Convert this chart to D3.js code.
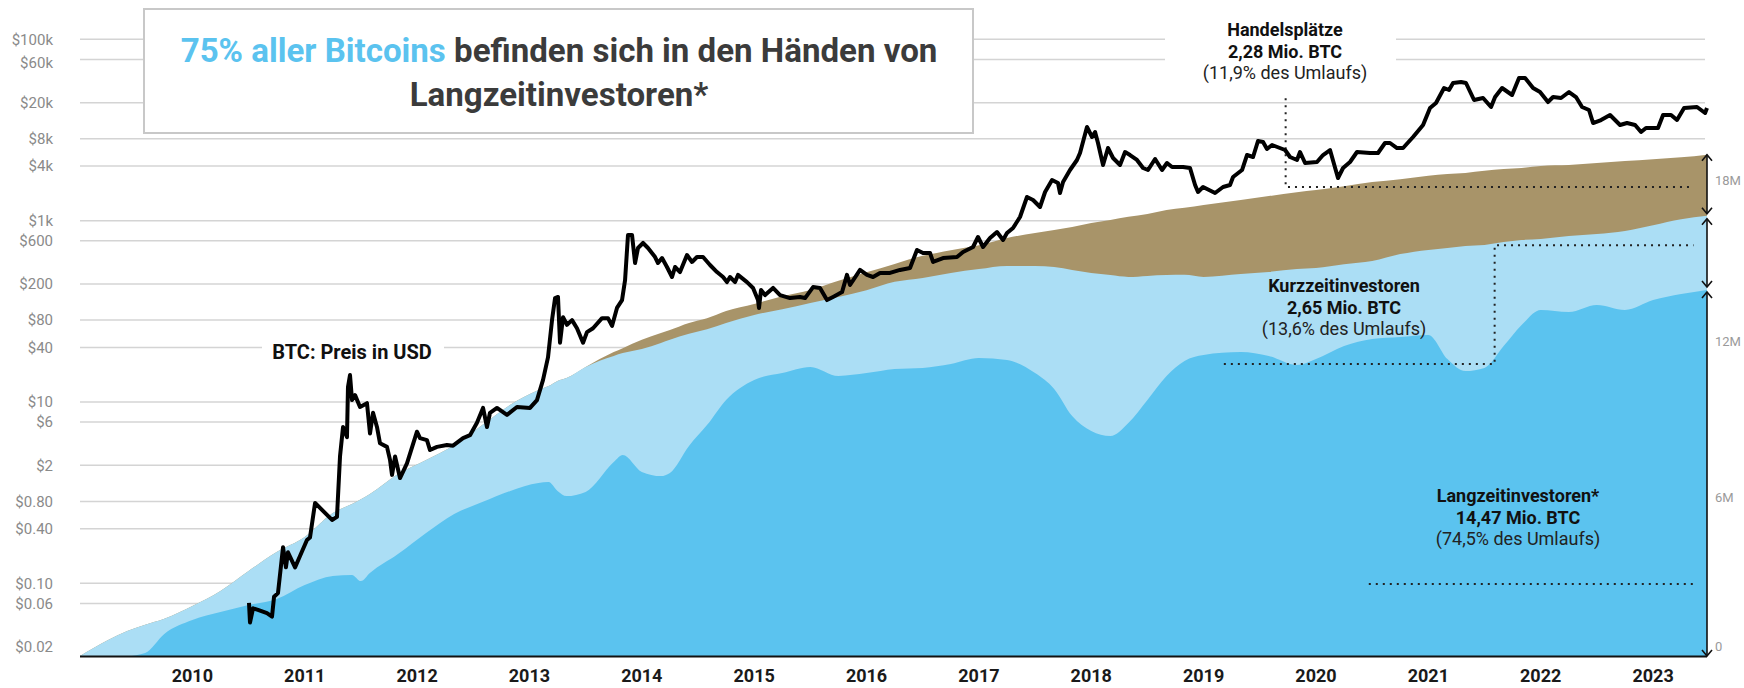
<!DOCTYPE html>
<html>
<head>
<meta charset="utf-8">
<script src="https://cdn.jsdelivr.net/npm/d3@7"></script>
<style>
  html, body { margin: 0; padding: 0; background: #fff; }
  svg { display: block; font-family: Roboto, "Open Sans", sans-serif; }
</style>
</head>
<body>
<div id="chart"></div>
<script>
// DATA (years as decimal years)
var yearTicks = d3.range(2010, 2024);

var priceTicks = [100000, 60000, 20000, 8000, 4000, 1000, 600, 200, 80, 40, 10, 6, 2, 0.8, 0.4, 0.1, 0.06, 0.02];
var priceTickLabels = ["$100k", "$60k", "$20k", "$8k", "$4k", "$1k", "$600", "$200", "$80", "$40",
  "$10", "$6", "$2", "$0.80", "$0.40", "$0.10", "$0.06", "$0.02"];

var supplyTicks = [0, 6, 12, 18];
var supplyTickLabels = ["0", "6M", "12M", "18M"];

// BTC price in USD
var priceDates = [
  2010.504, 2010.513, 2010.540, 2010.584, 2010.664, 2010.709, 2010.727, 2010.762, 2010.807, 2010.833,
  2010.851, 2010.914, 2010.958, 2011.020, 2011.047, 2011.092, 2011.243, 2011.287, 2011.314, 2011.341,
  2011.376, 2011.385, 2011.403, 2011.421, 2011.448, 2011.492, 2011.554, 2011.581, 2011.608, 2011.643,
  2011.670, 2011.732, 2011.759, 2011.777, 2011.804, 2011.848, 2011.910, 2011.999, 2012.026, 2012.088,
  2012.115, 2012.177, 2012.266, 2012.320, 2012.409, 2012.471, 2012.533, 2012.587, 2012.622, 2012.649,
  2012.711, 2012.800, 2012.889, 2013.005, 2013.067, 2013.121, 2013.165, 2013.201, 2013.228, 2013.254,
  2013.272, 2013.299, 2013.334, 2013.379, 2013.423, 2013.477, 2013.512, 2013.566, 2013.646, 2013.699,
  2013.735, 2013.779, 2013.824, 2013.851, 2013.877, 2013.913, 2013.940, 2013.966, 2014.011, 2014.055,
  2014.118, 2014.144, 2014.180, 2014.224, 2014.269, 2014.296, 2014.340, 2014.402, 2014.447, 2014.491,
  2014.545, 2014.607, 2014.669, 2014.723, 2014.758, 2014.785, 2014.830, 2014.856, 2014.936, 2014.990,
  2015.034, 2015.043, 2015.061, 2015.097, 2015.168, 2015.230, 2015.319, 2015.408, 2015.453, 2015.524,
  2015.586, 2015.648, 2015.702, 2015.782, 2015.826, 2015.853, 2015.942, 2016.004, 2016.058, 2016.120,
  2016.209, 2016.298, 2016.387, 2016.449, 2016.503, 2016.565, 2016.592, 2016.681, 2016.805, 2016.859,
  2016.948, 2016.992, 2017.037, 2017.099, 2017.161, 2017.215, 2017.250, 2017.304, 2017.366, 2017.428,
  2017.482, 2017.544, 2017.589, 2017.651, 2017.704, 2017.722, 2017.749, 2017.811, 2017.873, 2017.900,
  2017.962, 2018.007, 2018.034, 2018.060, 2018.105, 2018.149, 2018.194, 2018.256, 2018.301, 2018.345,
  2018.407, 2018.461, 2018.505, 2018.568, 2018.630, 2018.674, 2018.719, 2018.817, 2018.879, 2018.924,
  2018.950, 2018.995, 2019.102, 2019.173, 2019.235, 2019.262, 2019.342, 2019.386, 2019.440, 2019.484,
  2019.529, 2019.564, 2019.609, 2019.725, 2019.769, 2019.831, 2019.858, 2019.903, 2020.009, 2020.063,
  2020.125, 2020.196, 2020.241, 2020.303, 2020.365, 2020.481, 2020.552, 2020.614, 2020.659, 2020.721,
  2020.775, 2020.864, 2020.953, 2021.015, 2021.068, 2021.140, 2021.184, 2021.220, 2021.291, 2021.335,
  2021.407, 2021.487, 2021.558, 2021.594, 2021.656, 2021.745, 2021.807, 2021.861, 2021.932, 2021.994,
  2022.065, 2022.110, 2022.181, 2022.252, 2022.314, 2022.368, 2022.430, 2022.466, 2022.537, 2022.617,
  2022.706, 2022.768, 2022.840, 2022.893, 2022.937, 2023.044, 2023.089, 2023.160, 2023.213, 2023.276,
  2023.391, 2023.463, 2023.480
];
var priceValues = [
  0.061, 0.037, 0.053, 0.051, 0.047, 0.043, 0.071, 0.078, 0.25, 0.15,
  0.22, 0.15, 0.20, 0.30, 0.32, 0.77, 0.50, 0.54, 2.5, 5.3,
  4.1, 14.6, 19.8, 10.5, 11.9, 8.8, 9.7, 4.5, 7.6, 5.3,
  3.5, 3.2, 2.3, 1.57, 2.5, 1.45, 2.1, 4.7, 4.0, 3.8,
  2.95, 3.2, 3.35, 3.3, 4.0, 4.3, 5.9, 8.6, 5.3, 7.6,
  8.6, 7.2, 8.8, 8.6, 10.5, 17.5, 31, 80, 140, 144,
  45, 86, 71, 80, 65, 45, 59, 65, 84, 84,
  69, 109, 133, 221, 694, 694, 341, 499, 567, 499,
  397, 341, 387, 308, 239, 308, 271, 418, 350, 397,
  397, 324, 271, 239, 210, 239, 210, 252, 210, 181,
  133, 109, 172, 151, 181, 151, 140, 144, 140, 185,
  181, 133, 144, 163, 252, 195, 286, 252, 239, 265,
  265, 286, 300, 475, 440, 440, 350, 387, 397, 451,
  512, 660, 512, 643, 749, 612, 730, 829, 1097, 1823,
  1689, 1414, 2069, 2807, 2601, 2017, 2668, 3618, 4665, 5572,
  10782, 8363, 9497, 7183, 4109, 6325, 4907, 4109, 5715, 5294,
  4665, 3806, 3618, 4784, 3618, 4323, 3905, 3905, 3806, 2472,
  2069, 2350, 2017, 2350, 2472, 3029, 3618, 5294, 5033, 7555,
  7366, 6168, 6826, 6012, 5033, 4665, 5715, 4323, 4434, 5294,
  6012, 2953, 3806, 4434, 5715, 5572, 5572, 7183, 7183, 6325,
  6325, 8363, 11345, 17472, 19830, 29030, 27590, 32960, 33810, 32960,
  21400, 22520, 17920, 23100, 29030, 24300, 37420, 37420, 29030, 26220,
  20340, 23100, 22520, 26220, 23100, 17920, 16610, 11930, 12880, 14630,
  11345, 11930, 11345, 9497, 10510, 10510, 14630, 14630, 12880, 17472,
  17920, 15390, 17472
];

// BTC supply in millions, by holder group
var supplyDates = [
  2009.00, 2009.25, 2009.42, 2009.58, 2009.75, 2010.00, 2010.25, 2010.50, 2010.75, 2011.00,
  2011.25, 2011.42, 2011.50, 2011.58, 2011.83, 2012.08, 2012.33, 2012.58, 2012.83, 2013.08,
  2013.17, 2013.25, 2013.33, 2013.50, 2013.75, 2013.83, 2014.00, 2014.17, 2014.25, 2014.42,
  2014.58, 2014.75, 2015.00, 2015.25, 2015.50, 2015.75, 2016.00, 2016.25, 2016.50, 2016.75,
  2017.00, 2017.25, 2017.50, 2017.67, 2017.83, 2018.00, 2018.17, 2018.33, 2018.50, 2018.67,
  2018.83, 2019.00, 2019.33, 2019.58, 2019.83, 2020.00, 2020.25, 2020.50, 2020.75, 2021.00,
  2021.17, 2021.33, 2021.50, 2021.67, 2021.83, 2022.00, 2022.25, 2022.50, 2022.75, 2023.00,
  2023.25, 2023.48
];
var lthSupply = [
  0, 0, 0, 0.12, 0.85, 1.38, 1.69, 1.96, 2.19, 2.73,
  3.08, 3.12, 2.88, 3.19, 3.92, 4.73, 5.46, 5.92, 6.35, 6.65,
  6.69, 6.35, 6.15, 6.31, 7.46, 7.73, 7.08, 6.92, 7.04, 8.08,
  8.88, 9.85, 10.62, 10.88, 11.12, 10.77, 10.88, 11.04, 11.08, 11.23,
  11.46, 11.38, 10.88, 10.27, 9.23, 8.65, 8.46, 8.96, 9.85, 10.77,
  11.35, 11.58, 11.69, 11.54, 11.19, 11.42, 11.92, 12.19, 12.27, 12.35,
  11.42, 10.96, 11.08, 11.92, 12.73, 13.31, 13.23, 13.5, 13.31, 13.69,
  13.92, 14.08
];
var sthSupply = [
  0, 0.62, 0.96, 1.08, 0.58, 0.54, 0.81, 1.31, 1.81, 1.85,
  2.42, 2.73, 3.15, 3.04, 3.08, 2.81, 2.65, 2.96, 3.31, 3.58,
  3.69, 4.23, 4.54, 4.81, 4.08, 3.92, 4.73, 5.12, 5.12, 4.31,
  3.69, 2.96, 2.5, 2.46, 2.46, 3.04, 3.19, 3.35, 3.46, 3.5,
  3.42, 3.62, 4.12, 4.69, 5.62, 6.08, 6.19, 5.62, 4.77, 3.88,
  3.31, 3.0, 3.0, 3.23, 3.69, 3.5, 3.15, 3.0, 3.19, 3.27,
  4.27, 4.81, 4.73, 4.0, 3.27, 2.73, 2.92, 2.73, 3.04, 2.88,
  2.88, 2.85
];
var exchangeSupply = [
  0, 0, 0, 0, 0, 0, 0, 0, 0, 0,
  0, 0, 0, 0, 0, 0, 0, 0, 0, 0,
  0, 0, 0, 0, 0.15, 0.19, 0.35, 0.38, 0.38, 0.42,
  0.42, 0.46, 0.42, 0.5, 0.5, 0.62, 0.69, 0.69, 0.85, 0.88,
  0.92, 1.08, 1.27, 1.42, 1.65, 1.92, 2.12, 2.31, 2.38, 2.5,
  2.58, 2.77, 2.85, 2.92, 2.96, 3.0, 3.0, 3.04, 2.88, 2.85,
  2.85, 2.81, 2.85, 2.81, 2.77, 2.81, 2.73, 2.73, 2.69, 2.54,
  2.38, 2.35
];

// LAYOUT
var width = 1744, height = 688;
var colLth = "#5bc3ef", colSth = "#abdef5", colExch = "#a89469";

var x = d3.scaleLinear().domain([2009, 2023.48]).range([80, 1707]);
var yPrice = d3.scaleLog().domain([0.02, 100000]).range([646.7, 39.3]);
var ySupply = d3.scaleLinear().domain([0, 19.3]).range([656, 154.2]);

var svg = d3.select("#chart").append("svg")
  .attr("width", width)
  .attr("height", height)
  .style("background", "#fff");

// gridlines behind everything
svg.append("g")
  .selectAll("line")
  .data(priceTicks.filter(function (t) { return t > 0.02; }))
  .enter()
  .append("line")
  .attr("x1", 80)
  .attr("x2", 1705)
  .attr("y1", function (d) { return yPrice(d); })
  .attr("y2", function (d) { return yPrice(d); })
  .attr("stroke", "#d4d4d4")
  .attr("stroke-width", 1.5);

// left price labels
var labelNudge = { 60000: 3 };
svg.append("g")
  .selectAll("text")
  .data(priceTicks)
  .enter()
  .append("text")
  .attr("x", 53)
  .attr("y", function (d) { return yPrice(d) + (labelNudge[d] || 0); })
  .attr("dy", "0.35em")
  .attr("text-anchor", "end")
  .attr("fill", "#8a8a8a")
  .style("font-size", "15px")
  .text(function (d, i) { return priceTickLabels[i]; });

// stacked supply areas
var rows = supplyDates.map(function (d, i) {
  return { year: d, lth: lthSupply[i], sth: sthSupply[i], exch: exchangeSupply[i] };
});
var stacked = d3.stack().keys(["lth", "sth", "exch"])(rows);
var areaColors = [colLth, colSth, colExch];

// draw each layer from the baseline so no seams show
var layerArea = d3.area()
  .x(function (d) { return x(d.data.year); })
  .y0(ySupply(0))
  .y1(function (d) { return ySupply(d[1]); })
  .curve(d3.curveMonotoneX);

svg.append("g")
  .selectAll("path")
  .data(stacked.slice().reverse())
  .enter()
  .append("path")
  .attr("d", layerArea)
  .attr("fill", function (d) { return areaColors[d.index]; });

// dotted leader lines
var dotted = svg.append("g")
  .attr("fill", "none")
  .attr("stroke", "#222")
  .attr("stroke-width", 2)
  .attr("stroke-dasharray", "2,5");

function polyline(points) {
  return d3.line()
    .x(function (p) { return x(p[0]); })
    .y(function (p) { return ySupply(p[1]); })(points);
}
// Handelsplätze
dotted.append("path").attr("d", polyline([[2019.73, 21.45], [2019.73, 18.04], [2023.36, 18.04]]));
// Kurzzeitinvestoren
dotted.append("path").attr("d", polyline([[2019.18, 11.23], [2021.59, 11.23], [2021.59, 15.8], [2023.36, 15.8]]));
// Langzeitinvestoren
dotted.append("path").attr("d", polyline([[2020.47, 2.77], [2023.36, 2.77]]));

// price line
var priceLine = d3.line()
  .x(function (d, i) { return x(priceDates[i]); })
  .y(function (d) { return yPrice(d); });

svg.append("path")
  .datum(priceValues)
  .attr("d", priceLine)
  .attr("fill", "none")
  .attr("stroke", "#000")
  .attr("stroke-width", 4)
  .attr("stroke-linejoin", "round");

// x axis baseline + year labels
svg.append("line")
  .attr("x1", 80).attr("x2", x(2023.48))
  .attr("y1", ySupply(0) + 0.5).attr("y2", ySupply(0) + 0.5)
  .attr("stroke", "#111")
  .attr("stroke-width", 2);

svg.append("g")
  .selectAll("text")
  .data(yearTicks)
  .enter()
  .append("text")
  .attr("x", function (d) { return x(d); })
  .attr("y", 682)
  .attr("text-anchor", "middle")
  .attr("fill", "#1a1a1a")
  .style("font-size", "18px")
  .style("font-weight", 700)
  .text(function (d) { return d; });

// right side arrows for the three groups at the last date
var last = rows[rows.length - 1];
var xEnd = x(last.year);
var tTotal = ySupply(last.lth + last.sth + last.exch);
var tSth = ySupply(last.lth + last.sth);
var tLth = ySupply(last.lth);
var arrowSpans = [[tTotal, tSth - 2], [tSth + 3, tLth - 3], [tLth + 2, ySupply(0)]];
var arrows = svg.append("g").attr("stroke", "#111").attr("fill", "none").attr("stroke-width", 1.6);
arrowSpans.forEach(function (s) {
  arrows.append("line").attr("x1", xEnd).attr("x2", xEnd).attr("y1", s[0]).attr("y2", s[1]);
  arrows.append("path").attr("d", "M" + (xEnd - 5) + "," + (s[0] + 6) + "L" + xEnd + "," + s[0] + "L" + (xEnd + 5) + "," + (s[0] + 6));
  arrows.append("path").attr("d", "M" + (xEnd - 5) + "," + (s[1] - 6) + "L" + xEnd + "," + s[1] + "L" + (xEnd + 5) + "," + (s[1] - 6));
});

// right supply labels (placed a little above their value, as in the original)
var supplyNudge = { 0: -10, 6: -3, 12: -3, 18: -8 };
svg.append("g")
  .selectAll("text")
  .data(supplyTicks)
  .enter()
  .append("text")
  .attr("x", 1715)
  .attr("y", function (d) { return ySupply(d) + supplyNudge[d]; })
  .attr("dy", "0.35em")
  .attr("fill", "#9a9a9a")
  .style("font-size", "13px")
  .text(function (d, i) { return supplyTickLabels[i]; });

// annotation blocks
function annotate(cx, y0, lines, bg) {
  var g = svg.append("g");
  if (bg) {
    g.append("rect").attr("x", bg[0]).attr("y", bg[1]).attr("width", bg[2]).attr("height", bg[3]).attr("fill", "#fff");
  }
  lines.forEach(function (l, i) {
    g.append("text")
      .attr("x", cx)
      .attr("y", y0 + i * 21.5)
      .attr("text-anchor", "middle")
      .attr("fill", l[1] ? "#111" : "#222")
      .style("font-size", "18px")
      .style("font-weight", l[1] ? 700 : 400)
      .text(l[0]);
  });
}
annotate(1285, 36, [["Handelsplätze", true], ["2,28 Mio. BTC", true], ["(11,9% des Umlaufs)", false]], [1165, 14, 231, 72]);
annotate(1344, 292, [["Kurzzeitinvestoren", true], ["2,65 Mio. BTC", true], ["(13,6% des Umlaufs)", false]]);
annotate(1518, 502, [["Langzeitinvestoren*", true], ["14,47 Mio. BTC", true], ["(74,5% des Umlaufs)", false]]);

// price label
svg.append("rect").attr("x", 262).attr("y", 338).attr("width", 182).attr("height", 26).attr("fill", "#fff");
svg.append("text")
  .attr("x", 352)
  .attr("y", 359)
  .attr("text-anchor", "middle")
  .attr("fill", "#111")
  .style("font-size", "20px")
  .style("font-weight", 700)
  .text("BTC: Preis in USD");

// title box
svg.append("rect")
  .attr("x", 144).attr("y", 9)
  .attr("width", 829).attr("height", 124)
  .attr("fill", "#fff")
  .attr("stroke", "#c8c8c8")
  .attr("stroke-width", 2);

var title1 = svg.append("text")
  .attr("x", 559).attr("y", 62)
  .attr("text-anchor", "middle")
  .style("font-size", "27px")
  .style("font-weight", 700);
title1.append("tspan").attr("fill", "#5bc3ef").text("75% aller Bitcoins");
title1.append("tspan").attr("fill", "#3b3b3b").text(" befinden sich in den Händen von");

var title2 = svg.append("text")
  .attr("x", 559).attr("y", 106)
  .attr("text-anchor", "middle")
  .attr("fill", "#3b3b3b")
  .style("font-size", "27px")
  .style("font-weight", 700)
  .text("Langzeitinvestoren*");

// fit title width to the box like the original
var w1 = title1.node().getComputedTextLength();
if (w1 > 0) {
  var fs = 27 * 757 / w1;
  title1.style("font-size", fs + "px");
  title2.style("font-size", fs + "px");
}
</script>
</body>
</html>
